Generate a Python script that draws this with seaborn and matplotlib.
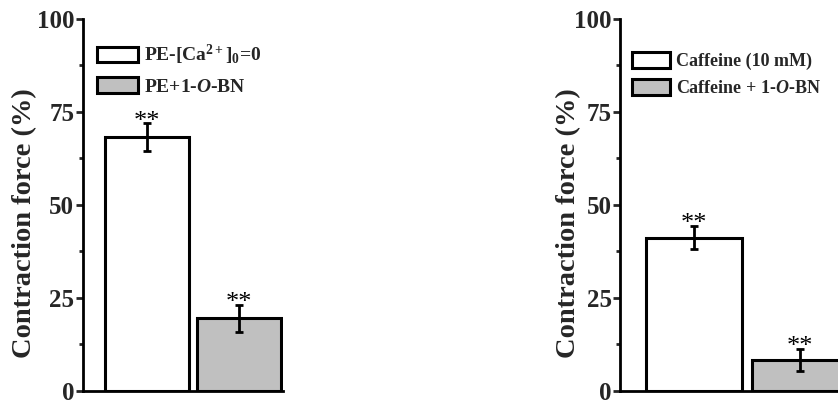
import matplotlib
matplotlib.use("Agg")
import matplotlib.pyplot as plt
from matplotlib.patches import Patch
from matplotlib.ticker import MultipleLocator
import seaborn as sns

# ---- data ----
left_labels = ["PE-[Ca$^{2+}$]$_{0}$=0", "PE+1-$\\mathit{O}$-BN"]
left_means = [68.2, 19.5]
left_err = [3.7, 3.6]

right_labels = ["Caffeine (10 mM)", "Caffeine + 1-$\\mathit{O}$-BN"]
right_means = [41.2, 8.3]
right_err = [3.2, 2.9]

yticks = [0, 25, 50, 75, 100]
ylabel = "Contraction force (%)"
colors = ["#ffffff", "#c0c0c0"]

sns.set_style("white")
plt.rcParams["font.family"] = ["Liberation Serif", "DejaVu Serif"]
plt.rcParams["font.weight"] = "bold"
plt.rcParams["mathtext.fontset"] = "custom"
plt.rcParams["mathtext.rm"] = "Liberation Serif:bold"
plt.rcParams["mathtext.it"] = "Liberation Serif:italic:bold"
plt.rcParams["mathtext.bf"] = "Liberation Serif:bold"

W, H = 838, 401
fig = plt.figure(figsize=(W / 100, H / 100), dpi=100)


def px_axes(x0, x1, y0, y1):
    return fig.add_axes([x0 / W, 1 - y1 / H, (x1 - x0) / W, (y1 - y0) / H])


def panel(ax, labels, means, errs, xlim, width, leg_anchor, leg_size, hh, lab_x):
    sns.barplot(x=labels, y=means, hue=labels, palette=colors, edgecolor="black",
                linewidth=2.2, width=width, legend=False, ax=ax, errorbar=None)
    ax.errorbar(x=[0, 1], y=means, yerr=errs, fmt="none", ecolor="black",
                elinewidth=2, capsize=3, capthick=2)
    for i, (m, e) in enumerate(zip(means, errs)):
        ax.annotate("**", xy=(i, m + e), xytext=(0, -3), textcoords="offset points",
                    ha="center", va="baseline", fontsize=19, fontweight="normal",
                    color="black")
    ax.set_xlim(*xlim)
    ax.set_ylim(0, 100)
    ax.set_yticks(yticks)
    ax.set_yticklabels([str(t) for t in yticks], fontsize=18, fontweight="bold")
    ax.yaxis.set_minor_locator(MultipleLocator(12.5))
    ax.tick_params(axis="y", which="major", direction="out", length=5, width=2,
                   left=True, pad=1)
    ax.tick_params(axis="y", which="minor", direction="out", length=3, width=2,
                   left=True)
    ax.tick_params(axis="x", bottom=False, labelbottom=False)
    ax.set_xlabel("")
    ax.set_ylabel(ylabel, fontsize=20.5, fontweight="bold")
    ax.yaxis.set_label_coords(lab_x, 0.451)
    for s in ["top", "right"]:
        ax.spines[s].set_visible(False)
    for s in ["left", "bottom"]:
        ax.spines[s].set_linewidth(2)
        ax.spines[s].set_color("black")
    handles = [Patch(facecolor=c, edgecolor="black", linewidth=2.2) for c in colors]
    ax.legend(handles, labels, loc="upper left", bbox_to_anchor=leg_anchor,
              frameon=False, handlelength=2.1, handleheight=hh,
              handletextpad=0.35, labelspacing=0.5, borderpad=0, borderaxespad=0,
              prop={"weight": "bold", "size": leg_size})


ax1 = px_axes(82.7, 282.7, 19, 390.7)
panel(ax1, left_labels, left_means, left_err, (-0.699, 1.473), 0.913,
      (0.07, 0.935), 14, 0.85, -0.228)

ax2 = px_axes(620, 850, 19, 390.7)
panel(ax2, right_labels, right_means, right_err, (-0.703, 1.473), 0.908,
      (0.052, 0.912), 13, 1.0, -0.17)

fig.savefig("out.png", dpi=100)
